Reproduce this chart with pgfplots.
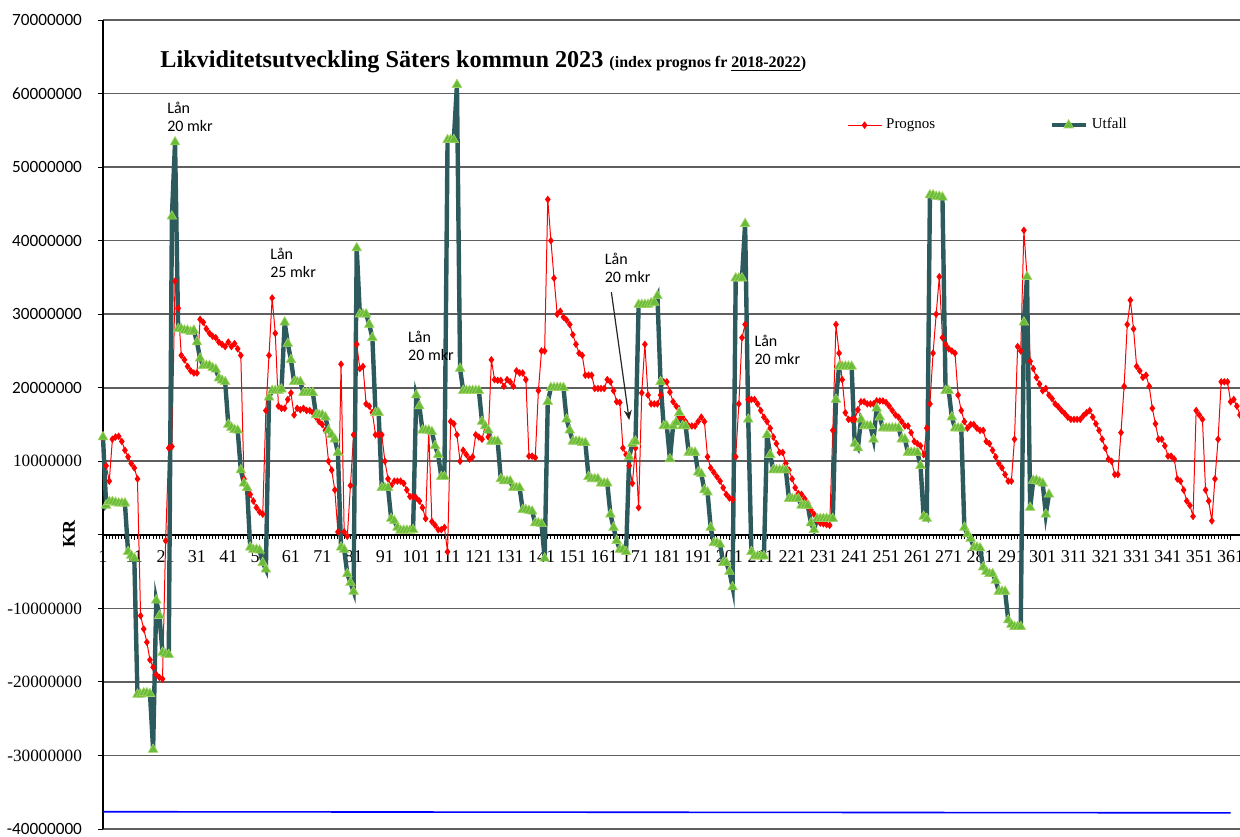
\documentclass[border=0pt]{standalone}
\usepackage{fontspec}
\setmainfont{Liberation Serif}
\newfontfamily\carlito{Carlito}
\usepackage{pgfplots}
\pgfplotsset{compat=1.18}
\usetikzlibrary{arrows.meta}
\definecolor{utf}{RGB}{45,90,92}
\definecolor{utfmark}{RGB}{105,188,55}
\definecolor{utfedge}{RGB}{165,212,105}
\definecolor{gridc}{RGB}{95,95,95}
\pgfplotstableread{
d v
1 13.3
2 9.4
3 7.3
4 13.0
5 13.3
6 13.4
7 12.7
8 11.5
9 10.6
10 9.7
11 9.1
12 7.6
13 -11.0
14 -12.8
15 -14.6
16 -17.0
17 -18.0
18 -19.0
19 -19.4
20 -19.6
21 -0.8
22 11.8
23 12.0
24 34.5
25 30.8
26 24.4
27 23.8
28 22.9
29 22.3
30 22.0
31 22.0
32 29.3
33 28.9
34 28.0
35 27.4
36 27.0
37 26.8
38 26.2
39 25.9
40 25.6
41 26.2
42 25.6
43 26.0
44 25.3
45 24.4
46 7.6
47 6.4
48 5.5
49 4.6
50 3.7
51 3.1
52 2.8
53 16.9
54 24.4
55 32.2
56 27.4
57 17.5
58 17.2
59 17.2
60 18.4
61 19.3
62 16.3
63 17.2
64 17.0
65 17.2
66 16.9
67 16.9
68 16.6
69 16.0
70 15.4
71 15.0
72 14.2
73 10.0
74 8.8
75 6.1
76 0.4
77 23.2
78 0.4
79 -0.2
80 6.7
81 13.6
82 25.9
83 22.6
84 22.9
85 17.8
86 17.5
87 16.6
88 13.6
89 13.6
90 13.6
91 10.0
92 7.6
93 6.7
94 7.3
95 7.3
96 7.3
97 7.0
98 6.1
99 5.2
100 5.2
101 5.0
102 4.6
103 3.7
104 2.2
105 14.2
106 1.8
107 1.3
108 0.7
109 0.7
110 1.0
111 -2.3
112 15.4
113 15.1
114 13.6
115 10.0
116 11.5
117 10.9
118 10.3
119 10.6
120 13.6
121 13.3
122 13.0
123 14.8
124 13.3
125 23.8
126 21.1
127 21.0
128 21.0
129 20.2
130 21.1
131 20.8
132 20.2
133 22.3
134 22.0
135 22.0
136 21.1
137 10.7
138 10.7
139 10.5
140 19.6
141 25.0
142 25.0
143 45.6
144 40.0
145 34.9
146 30.0
147 30.4
148 29.6
149 29.2
150 28.6
151 27.2
152 25.9
153 24.7
154 24.4
155 21.7
156 21.7
157 21.7
158 19.9
159 19.9
160 19.9
161 19.9
162 21.1
163 20.8
164 19.6
165 18.1
166 18.0
167 11.8
168 10.9
169 9.4
170 7.0
171 11.8
172 3.7
173 19.3
174 25.9
175 19.0
176 17.8
177 17.8
178 17.8
179 19.0
180 20.8
181 20.8
182 19.4
183 18.1
184 17.5
185 16.0
186 16.0
187 15.4
188 14.8
189 14.8
190 14.8
191 15.4
192 16.0
193 15.4
194 10.6
195 9.1
196 8.5
197 7.9
198 7.3
199 6.4
200 5.5
201 5.0
202 4.8
203 10.6
204 17.8
205 26.8
206 28.6
207 18.4
208 18.4
209 18.4
210 17.8
211 16.9
212 16.0
213 15.4
214 14.5
215 13.3
216 12.4
217 11.2
218 11.2
219 9.7
220 8.8
221 7.6
222 6.4
223 5.6
224 5.5
225 4.9
226 4.3
227 3.4
228 2.8
229 2.0
230 1.6
231 1.5
232 1.4
233 1.3
234 14.2
235 28.6
236 24.7
237 21.1
238 16.6
239 15.7
240 15.7
241 15.7
242 17.0
243 18.1
244 18.1
245 17.8
246 17.8
247 17.8
248 18.2
249 18.2
250 18.2
251 18.0
252 17.5
253 16.9
254 16.3
255 16.0
256 15.4
257 14.8
258 14.8
259 13.9
260 12.7
261 12.4
262 12.1
263 10.9
264 14.5
265 17.8
266 24.7
267 30.0
268 35.1
269 26.8
270 25.9
271 25.3
272 25.0
273 24.7
274 19.0
275 16.9
276 15.4
277 14.5
278 15.0
279 15.0
280 14.5
281 14.2
282 14.2
283 12.7
284 12.4
285 11.5
286 10.6
287 9.7
288 9.1
289 8.2
290 7.3
291 7.3
292 13.0
293 25.6
294 25.0
295 41.4
296 35.1
297 23.6
298 22.6
299 21.4
300 20.5
301 19.6
302 19.9
303 19.0
304 18.5
305 17.8
306 17.4
307 16.9
308 16.5
309 16.0
310 15.7
311 15.7
312 15.7
313 15.7
314 16.2
315 16.6
316 16.9
317 16.0
318 15.1
319 14.2
320 13.0
321 11.8
322 10.3
323 10.0
324 8.2
325 8.2
326 13.9
327 20.2
328 28.6
329 31.9
330 28.0
331 22.9
332 22.3
333 21.4
334 21.7
335 20.2
336 17.2
337 15.1
338 13.0
339 13.0
340 12.1
341 10.7
342 10.7
343 10.3
344 7.6
345 7.3
346 6.1
347 4.6
348 4.0
349 2.5
350 16.9
351 16.3
352 15.7
353 6.1
354 4.6
355 1.9
356 7.6
357 13.0
358 20.8
359 20.8
360 20.8
361 18.1
362 18.4
363 17.5
364 16.3
}\prognos
\pgfplotstableread{
d v
1 13.3
2 4.0
3 4.5
4 4.5
5 4.4
6 4.3
7 4.3
8 4.3
9 -2.3
10 -2.8
11 -3.2
12 -21.7
13 -21.7
14 -21.5
15 -21.5
16 -21.6
17 -29.2
18 -8.9
19 -11.0
20 -16.0
21 -16.2
22 -16.3
23 43.3
24 53.4
25 28.0
26 28.0
27 27.8
28 27.8
29 27.6
30 27.8
31 26.2
32 24.0
33 23.0
34 23.0
35 23.0
36 22.7
37 22.5
38 21.3
39 21.0
40 20.8
41 15.0
42 14.6
43 14.3
44 14.2
45 8.8
46 7.0
47 6.4
48 -1.7
49 -2.0
50 -2.0
51 -2.1
52 -3.8
53 -4.7
54 18.7
55 19.6
56 19.6
57 19.6
58 19.8
59 28.9
60 26.0
61 23.8
62 20.8
63 20.8
64 20.8
65 19.3
66 19.3
67 19.3
68 19.3
69 16.3
70 16.3
71 16.3
72 16.0
73 14.2
74 13.6
75 13.0
76 11.2
77 -1.7
78 -2.0
79 -5.3
80 -6.5
81 -7.7
82 39.0
83 30.0
84 30.0
85 30.0
86 28.6
87 26.8
88 16.6
89 16.6
90 6.4
91 6.4
92 6.4
93 2.2
94 1.9
95 1.0
96 0.6
97 0.6
98 0.6
99 0.6
100 0.7
101 19.0
102 17.5
103 14.2
104 14.2
105 14.2
106 14.0
107 12.1
108 10.9
109 7.9
110 7.9
111 53.7
112 53.7
113 53.7
114 61.2
115 22.6
116 19.6
117 19.6
118 19.6
119 19.6
120 19.6
121 19.6
122 15.4
123 14.8
124 14.2
125 12.7
126 12.7
127 12.7
128 7.6
129 7.3
130 7.3
131 7.3
132 6.4
133 6.4
134 6.4
135 3.4
136 3.4
137 3.3
138 3.2
139 1.6
140 1.6
141 1.5
142 -3.2
143 18.1
144 20.0
145 20.0
146 20.0
147 20.0
148 20.0
149 15.7
150 14.2
151 12.7
152 12.7
153 12.7
154 12.5
155 12.5
156 7.9
157 7.6
158 7.6
159 7.6
160 7.0
161 7.0
162 7.0
163 2.8
164 1.0
165 -0.8
166 -2.0
167 -2.0
168 -2.3
169 10.6
170 12.4
171 12.7
172 31.3
173 31.3
174 31.3
175 31.3
176 31.5
177 31.6
178 32.5
179 20.8
180 14.8
181 14.8
182 10.3
183 14.8
184 15.3
185 16.6
186 14.8
187 14.8
188 11.2
189 11.2
190 11.2
191 8.5
192 8.3
193 6.1
194 5.8
195 1.0
196 -1.1
197 -1.1
198 -1.3
199 -3.8
200 -3.8
201 -5.0
202 -7.1
203 34.9
204 34.9
205 34.9
206 42.3
207 15.7
208 -2.3
209 -2.9
210 -2.9
211 -2.9
212 -2.9
213 13.6
214 10.9
215 8.8
216 8.8
217 8.8
218 8.8
219 8.8
220 4.9
221 4.9
222 4.9
223 4.9
224 4.0
225 4.0
226 4.0
227 1.6
228 0.7
229 2.2
230 2.2
231 2.2
232 2.2
233 2.2
234 2.2
235 18.4
236 22.9
237 22.9
238 22.9
239 22.9
240 22.9
241 12.4
242 11.8
243 15.7
244 14.8
245 14.8
246 14.8
247 13.0
248 17.2
249 16.0
250 14.5
251 14.5
252 14.5
253 14.5
254 14.5
255 14.5
256 13.0
257 13.0
258 11.2
259 11.2
260 11.2
261 11.2
262 9.4
263 2.5
264 2.2
265 46.2
266 46.2
267 46.0
268 46.0
269 45.9
270 19.6
271 19.6
272 16.0
273 14.5
274 14.5
275 14.5
276 1.0
277 0.1
278 -0.5
279 -1.7
280 -1.7
281 -1.8
282 -4.4
283 -5.0
284 -5.3
285 -5.3
286 -6.2
287 -7.7
288 -7.7
289 -7.7
290 -11.6
291 -12.2
292 -12.5
293 -12.5
294 -12.5
295 28.9
296 35.1
297 3.7
298 7.4
299 7.4
300 7.2
301 7.0
302 2.8
303 5.5
}\utfall
\begin{document}
\begin{tikzpicture}
\path[use as bounding box] (-51.5pt,-3.5pt) rectangle (568.5pt,414.5pt);
\begin{axis}[
  at={(0,0)}, anchor=south west,
  scale only axis, width=568.5pt, height=404.5pt,
  xmin=1, xmax=364, ymin=-40, ymax=70,
  axis y line=left, axis x line=middle,
  axis line style={-, line width=0.8pt, black},
  hide obscured x ticks=false, hide obscured y ticks=false,
  clip=false,
  ymajorgrids, major grid style={gridc, line width=0.8pt},
  ytick={-40,-30,-20,-10,0,10,20,30,40,50,60,70},
  yticklabels={{\carlito -40000000},{-30000000},{-20000000},{-10000000},{},{10000000},{\carlito 20000000},{\carlito 30000000},{\carlito 40000000},{\carlito 50000000},{\carlito 60000000},{\carlito 70000000}},
  yticklabel style={font=\fontsize{8.6}{10}\selectfont, xshift=-4.5pt},
  xtick={1,11,...,361},
  minor x tick num=9,
  tick align=outside,
  major tick length=2.5pt, minor tick length=2pt,
  tick style={black, line width=0.5pt},
  xticklabel style={font=\fontsize{9}{10}\selectfont, yshift=-2pt},
  /pgf/number format/assume math mode=true,
  legend style={draw=none, fill=none, at={(0.654,0.870)}, anchor=west,
    font=\fontsize{7.5}{9}\selectfont, inner sep=0pt,
    /tikz/every even column/.append style={column sep=55pt}},
  legend columns=2, legend cell align=left,
]
\addplot[blue, line width=0.8pt, forget plot] coordinates {(1,-37.65) (361,-37.8)};
\addplot[red, line width=0.5pt, mark=diamond*, mark size=1.5pt, mark options={fill=red, draw=red}] table[x=d, y=v] {\prognos};
\addlegendentry{Prognos}
\addplot[utf, line width=2.2pt, mark=triangle*, mark size=2.8pt, mark options={fill=utfmark, draw=utfedge, line width=0.3pt}] table[x=d, y=v] {\utfall};
\addlegendentry{Utfall}
\node[anchor=base west, inner sep=0pt] at (axis cs:19.2,63.6) {\fontsize{12.1}{14}\selectfont\bfseries Likviditetsutveckling Säters kommun 2023 {\fontsize{8}{9}\selectfont (index prognos fr \underline{2018-2022})}};
\node[rotate=90, font=\fontsize{9}{10}\selectfont\bfseries] at ([xshift=-17pt]axis cs:1,0.1) {KR};
\node[anchor=north west, inner sep=0pt, align=left, font=\carlito\fontsize{8}{9}\selectfont] at (axis cs:21.4,58.9) {Lån\\20 mkr};
\node[anchor=north west, inner sep=0pt, align=left, font=\carlito\fontsize{8}{9}\selectfont] at (axis cs:54.3,39.0) {Lån\\25 mkr};
\node[anchor=north west, inner sep=0pt, align=left, font=\carlito\fontsize{8}{9}\selectfont] at (axis cs:98.3,27.7) {Lån\\20 mkr};
\node[anchor=north west, inner sep=0pt, align=left, font=\carlito\fontsize{8}{9}\selectfont] at (axis cs:161.1,38.4) {Lån\\20 mkr};
\node[anchor=north west, inner sep=0pt, align=left, font=\carlito\fontsize{8}{9}\selectfont] at (axis cs:208.9,27.2) {Lån\\20 mkr};
\draw[-{Stealth[length=5pt,width=4pt]}, line width=0.6pt, black!85] (axis cs:163.3,33.0) -- (axis cs:169,15.6);
\end{axis}
\end{tikzpicture}
\end{document}
